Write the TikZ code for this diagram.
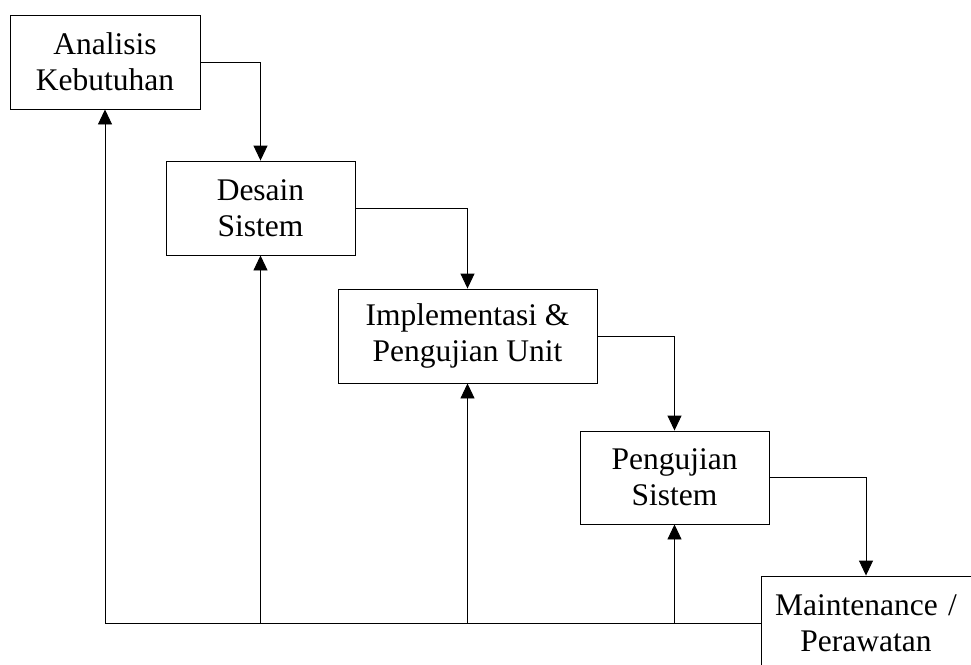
\documentclass[tikz,border=0pt]{standalone}
\usepackage{fontspec}
\setmainfont{Liberation Serif}
\usetikzlibrary{arrows.meta}
\tikzset{
  stage/.style={draw=black, line width=0.9pt, fill=white, inner sep=0pt, align=center,
    font=\fontsize{31.5}{36}\selectfont},
  flow/.style={line width=0.9pt, -{Triangle[length=15pt,width=14pt]}}
}
\begin{document}
\begin{tikzpicture}[x=1pt,y=-1pt]
\useasboundingbox (0,0) rectangle (971,664);
\node[stage, minimum width=190pt, minimum height=94pt] (b1) at (105,62) {Analisis\\Kebutuhan};
\node[stage, minimum width=189pt, minimum height=94pt] (b2) at (260.5,208) {Desain\\Sistem};
\node[stage, minimum width=259pt, minimum height=94pt] (b3) at (467.5,336) {Implementasi \&\\Pengujian Unit};
\node[stage, minimum width=189pt, minimum height=93pt] (b4) at (674.5,477.5) {Pengujian\\Sistem};
\node[stage, minimum width=216pt, minimum height=94pt, text width=210pt] (b5) at (869,623) {\hspace*{-6pt}Maintenance /\\\hspace*{-6pt}Perawatan};
% forward flow
\draw[flow] (b1.east) -| (b2.north);
\draw[flow] (b2.east) -| (b3.north);
\draw[flow] (b3.east) -| (b4.north);
\draw[flow] (b4.east) -| ([xshift=-3pt]b5.north);
% feedback
\draw[flow] (b5.west) -| (b1.south);
\draw[flow] (b2.south |- b5.west) -- (b2.south);
\draw[flow] (b3.south |- b5.west) -- (b3.south);
\draw[flow] (b4.south |- b5.west) -- (b4.south);
\end{tikzpicture}
\end{document}
